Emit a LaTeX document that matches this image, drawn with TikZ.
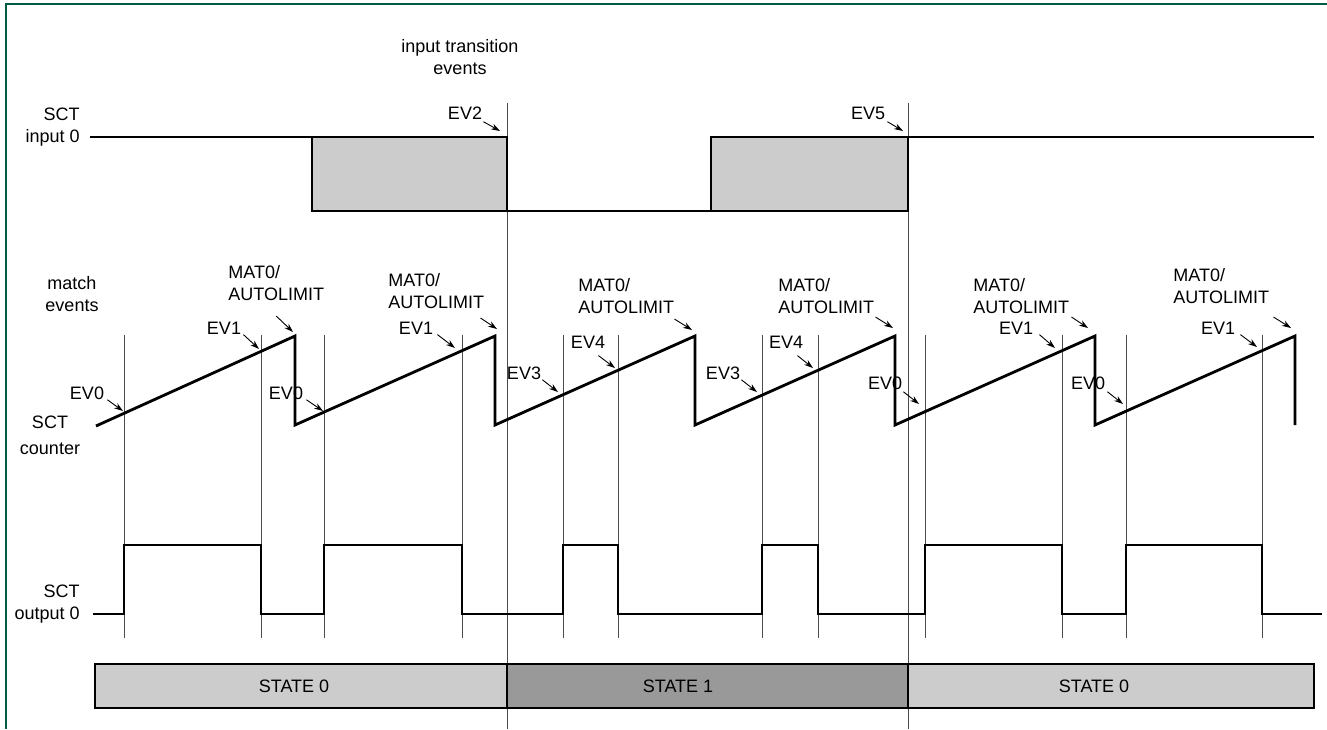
\documentclass[tikz,border=0pt]{standalone}
\usepackage{fontspec}
\setmainfont{Liberation Sans}
\usetikzlibrary{arrows.meta,positioning}

\definecolor{framegreen}{RGB}{0,90,70}
\definecolor{lightfill}{RGB}{204,204,204}
\definecolor{darkfill}{RGB}{153,153,153}

\tikzset{
  sig/.style={line width=1.4pt, line join=miter},
  evline/.style={line width=0.45pt, black!70},
  statebox/.style={draw, line width=1.2pt},
  evarrow/.style={-{Stealth[length=4.5pt,width=3pt]}, line width=0.45pt},
  lbl/.style={inner sep=0pt, font=\fontsize{9}{11}\selectfont},
}

\begin{document}
\begin{tikzpicture}[x=0.5pt, y=-0.5pt]
  \useasboundingbox (0,0) rectangle (1327,729);

  % frame
  \draw[framegreen, line width=0.8pt] (6,729) -- (6,4) -- (1327,4);

  % state change and event lines
  \draw[evline] (507,103) -- (507,729);
  \draw[evline] (908,103) -- (908,729);
  \foreach \x in {124,261,324,462,563,618,762,818,925,1062,1126,1262}
    \draw[evline] (\x,335) -- (\x,638);

  % SCT input 0
  \draw[sig] (90,137) -- (312,137);
  \filldraw[sig, fill=lightfill] (312,137) rectangle (507,211);
  \draw[sig] (507,211) -- (711,211);
  \filldraw[sig, fill=lightfill] (711,137) rectangle (908,211);
  \draw[sig] (908,137) -- (1314,137);

  % SCT counter
  \draw[sig] (96,426) foreach \p in {295,495,695,895,1095} { -- (\p,336) -- (\p,425) }
    -- (1295,336) -- (1295,425);

  % SCT output 0
  \draw[sig] (93,614) foreach \a/\b in {124/261,324/462,563/618,762/818,925/1062,1126/1262}
    { -- (\a,614) -- (\a,545) -- (\b,545) -- (\b,614) } -- (1322,614);

  % states
  \filldraw[statebox, fill=lightfill] (95,664) rectangle (507,708);
  \filldraw[statebox, fill=darkfill] (507,664) rectangle (908,708);
  \filldraw[statebox, fill=lightfill] (908,664) rectangle (1314,708);
  \node[lbl] (st0a) at (294,686) {STATE 0};
  \node[lbl] (st1) at (678,686) {STATE 1};
  \node[lbl] (st0b) at (1094,686) {STATE 0};

  % row labels
  \node[lbl, align=center, anchor=north] (trans) at (460,39) {input transition\\events};
  \node[lbl, align=right, anchor=north east] (inlbl) at (80,108) {SCT\\input 0};
  \node[lbl, align=center, anchor=north] (matchlbl) at (72,276) {match\\events};
  \node[lbl, align=center, anchor=north] (cntlbl) at (50,416) {SCT\\[2pt]counter};
  \node[lbl, align=right, anchor=north east] (outlbl) at (80,585) {SCT\\output 0};

  % input transition events
  \node[lbl] (ev2) at (465,113) {EV2};
  \node[lbl] (ev5) at (868,113) {EV5};
  \coordinate (t2) at (500,131);
  \coordinate (t5) at (903,131);
  \draw[evarrow] ([shift={(1,2)}]ev2.south east) -- (t2);
  \draw[evarrow] ([shift={(2,2)}]ev5.south east) -- (t5);

  % match events
  \node[lbl] (ev0a) at (87,393) {EV0};
  \node[lbl] (ev1a) at (224,328) {EV1};
  \node[lbl] (ev0b) at (286,393) {EV0};
  \node[lbl] (ev1b) at (416,328) {EV1};
  \node[lbl] (ev3a) at (524,373) {EV3};
  \node[lbl] (ev4a) at (588,342) {EV4};
  \node[lbl] (ev3b) at (723,373) {EV3};
  \node[lbl] (ev4b) at (786,342) {EV4};
  \node[lbl] (ev0c) at (885,383) {EV0};
  \node[lbl] (ev1c) at (1016,328) {EV1};
  \node[lbl] (ev0d) at (1088,383) {EV0};
  \node[lbl] (ev1d) at (1218,328) {EV1};

  \coordinate (t0a) at (123,411);
  \coordinate (t1a) at (259,349);
  \coordinate (t0b) at (323,411);
  \coordinate (t1b) at (455,348);
  \coordinate (t3a) at (558,392);
  \coordinate (t4a) at (615,368);
  \coordinate (t3b) at (757,392);
  \coordinate (t4b) at (813,368);
  \coordinate (t0c) at (919,404);
  \coordinate (t1c) at (1055,348);
  \coordinate (t0d) at (1123,404);
  \coordinate (t1d) at (1257,347);

  \draw[evarrow] ([shift={(3,0)}]ev0a.south east) -- (t0a);
  \draw[evarrow] ([shift={(2,0)}]ev1a.south east) -- (t1a);
  \draw[evarrow] ([shift={(3,0)}]ev0b.south east) -- (t0b);
  \draw[evarrow] ([shift={(4,0)}]ev1b.south east) -- (t1b);
  \draw[evarrow] ([shift={(1,0)}]ev3a.south east) -- (t3a);
  \draw[evarrow] ([shift={(-7,7)}]ev4a.south east) -- (t4a);
  \draw[evarrow] ([shift={(1,0)}]ev3b.south east) -- (t3b);
  \draw[evarrow] ([shift={(-6,7)}]ev4b.south east) -- (t4b);
  \draw[evarrow] ([shift={(1,2)}]ev0c.south east) -- (t0c);
  \draw[evarrow] ([shift={(6,0)}]ev1c.south east) -- (t1c);
  \draw[evarrow] ([shift={(2,2)}]ev0d.south east) -- (t0d);
  \draw[evarrow] ([shift={(5,0)}]ev1d.south east) -- (t1d);

  % MAT0 / AUTOLIMIT
  \node[lbl, align=left, anchor=north west] (mat1) at (228,265) {MAT0/\\AUTOLIMIT};
  \node[lbl, align=left, anchor=north west] (mat2) at (388,273) {MAT0/\\AUTOLIMIT};
  \node[lbl, align=left, anchor=north west] (mat3) at (578,278) {MAT0/\\AUTOLIMIT};
  \node[lbl, align=left, anchor=north west] (mat4) at (778,278) {MAT0/\\AUTOLIMIT};
  \node[lbl, align=left, anchor=north west] (mat5) at (973,278) {MAT0/\\AUTOLIMIT};
  \node[lbl, align=left, anchor=north west] (mat6) at (1173,268) {MAT0/\\AUTOLIMIT};

  \coordinate (pk1) at (293,332);
  \coordinate (pk2) at (497,329);
  \coordinate (pk3) at (692,330);
  \coordinate (pk4) at (893,328);
  \coordinate (pk5) at (1088,328);
  \coordinate (pk6) at (1291,328);

  \draw[evarrow] ([shift={(0,15)}]mat1.south) -- (pk1);
  \draw[evarrow] ([shift={(-4,9)}]mat2.south east) -- (pk2);
  \draw[evarrow] ([shift={(0,5)}]mat3.south east) -- (pk3);
  \draw[evarrow] ([shift={(1,3)}]mat4.south east) -- (pk4);
  \draw[evarrow] ([shift={(2,3)}]mat5.south east) -- (pk5);
  \draw[evarrow] ([shift={(4,13)}]mat6.south east) -- (pk6);
\end{tikzpicture}
\end{document}
